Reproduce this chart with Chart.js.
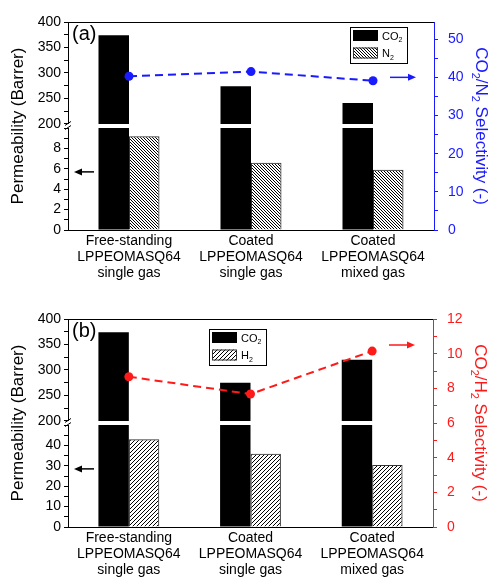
<!DOCTYPE html>
<html>
<head>
<meta charset="utf-8">
<script src="https://cdn.jsdelivr.net/npm/chart.js@4.4.1/dist/chart.umd.min.js"></script>
<style>
  body { margin: 0; background: #fff; }
  canvas { display: block; }
</style>
</head>
<body>
<canvas id="chartA" width="492" height="287"></canvas>
<canvas id="chartB" width="492" height="290"></canvas>
<script>
// membrane permeability / selectivity, two panels with a broken left axis
const categories = [
  ['Free-standing', 'LPPEOMASQ64', 'single gas'],
  ['Coated', 'LPPEOMASQ64', 'single gas'],
  ['Coated', 'LPPEOMASQ64', 'mixed gas']
];

// panel (a): CO2 / N2
const co2PermA = [374, 274, 241];
const n2PermA  = [9.2, 6.6, 5.9];
const selCO2N2 = [40.3, 41.5, 39.1];

// panel (b): CO2 / H2
const co2PermB = [374, 275, 320];
const h2PermB  = [43.0, 35.9, 30.4];
const selCO2H2 = [8.67, 7.67, 10.15];

// axis ranges [min, max, minor step, labelled step]
const upperAxis = [200, 400, 25, 50];
const lowerAxisA = [0, 10, 1, 2];
const lowerAxisB = [0, 50, 5, 10];
const selAxisA = [0, 54.5, 5, 10];
const selAxisB = [0, 12, 1, 2];

const FONT = '"Liberation Sans", Arial, Helvetica, sans-serif';
Chart.defaults.font.family = FONT;
Chart.defaults.font.size = 14;
Chart.defaults.color = '#000';
Chart.defaults.animation = false;

function hatch(size, forward){
  const tile = document.createElement('canvas');
  tile.width = size; tile.height = size;
  const g = tile.getContext('2d');
  g.strokeStyle = '#000'; g.lineWidth = 1;
  g.beginPath();
  if(forward){
    g.moveTo(-1, size + 1); g.lineTo(size + 1, -1);
    g.moveTo(-1, 1); g.lineTo(1, -1);
    g.moveTo(size - 1, size + 1); g.lineTo(size + 1, size - 1);
  } else {
    g.moveTo(-1, -1); g.lineTo(size + 1, size + 1);
    g.moveTo(-1, size - 1); g.lineTo(1, size + 1);
    g.moveTo(size - 1, -1); g.lineTo(size + 1, 1);
  }
  g.stroke();
  return document.createElement('canvas').getContext('2d').createPattern(tile, 'repeat');
}

// text with subscripts: parts = [[text, isSub], ...]
function drawParts(ctx, parts, size, x, y, rot, align){
  ctx.save();
  ctx.translate(x, y); ctx.rotate(rot);
  ctx.textAlign = 'left'; ctx.textBaseline = 'alphabetic';
  const px = s => (s ? Math.round(size * 0.65) : size) + 'px ' + FONT;
  const w = parts.map(([t, s]) => { ctx.font = px(s); return ctx.measureText(t).width; });
  let cx = align === 'center' ? -w.reduce((a, b) => a + b, 0) / 2 : 0;
  parts.forEach(([t, s], i) => {
    ctx.font = px(s);
    ctx.fillText(t, cx, s ? size * 0.25 : 0);
    cx += w[i];
  });
  ctx.restore();
}

function arrow(ctx, x0, x1, y, color){
  const d = Math.sign(x1 - x0);
  ctx.strokeStyle = color; ctx.fillStyle = color; ctx.lineWidth = 1.5;
  ctx.beginPath(); ctx.moveTo(x0, y); ctx.lineTo(x1 - d * 5, y); ctx.stroke();
  ctx.beginPath(); ctx.moveTo(x1, y); ctx.lineTo(x1 - d * 8, y - 3.5); ctx.lineTo(x1 - d * 8, y + 3.5);
  ctx.closePath(); ctx.fill();
}

function decor(p){
  return {
    id: 'decor',
    afterDraw(chart){
      const {ctx, chartArea: a, scales} = chart;
      ctx.save();
      // top frame
      ctx.strokeStyle = '#000'; ctx.lineWidth = 1;
      ctx.beginPath(); ctx.moveTo(a.left, a.top + 0.5); ctx.lineTo(a.right, a.top + 0.5); ctx.stroke();
      // axis break marks
      const g = scales.yGap;
      ctx.lineWidth = 1;
      [g.top, g.bottom].forEach(y => {
        ctx.beginPath(); ctx.moveTo(a.left - 3, y + 1.5); ctx.lineTo(a.left + 3, y - 2.5); ctx.stroke();
      });
      // panel tag
      ctx.fillStyle = '#000';
      ctx.font = '20px ' + FONT; ctx.textAlign = 'left'; ctx.textBaseline = 'middle';
      ctx.fillText(p.tag, a.left + 4, a.top + 12);
      // arrows pointing at the axes
      arrow(ctx, a.left + 26, a.left + 6, scales.yLo.getPixelForValue(p.leftArrow), '#000');
      arrow(ctx, a.right - 44, a.right - 18, scales.yR.getPixelForValue(p.rightArrow), p.color);
      // legend inside the plot
      const bx = a.left + p.legendLeft, by = a.top + p.legendTop;
      ctx.strokeStyle = '#000'; ctx.lineWidth = 1;
      ctx.strokeRect(Math.round(bx) + 0.5, Math.round(by) + 0.5, 57, 36);
      p.legend.forEach((it, i) => {
        const sx = Math.round(bx) + 3, sy = Math.round(by) + 3 + i * 17.5;
        ctx.fillStyle = it.fill;
        ctx.fillRect(sx, sy, 25, 11);
        if(it.edge){ ctx.strokeStyle = it.edge; ctx.strokeRect(sx + 0.5, sy + 0.5, 24, 10); }
        ctx.fillStyle = '#000';
        drawParts(ctx, it.text, 11, sx + 29, sy + 9.5, 0, 'left');
      });
      // right axis title
      ctx.fillStyle = p.color;
      drawParts(ctx, p.rightTitle, 17, a.right + 42, (a.top + a.bottom) / 2, Math.PI / 2, 'center');
      ctx.restore();
    }
  };
}

function buildPanel(id, p){
  const lo = p.lowAxis, hi = upperAxis, sel = p.selAxis;
  const leftW = s => { s.width = 68; };
  return new Chart(document.getElementById(id), {
    data: {
      labels: categories,
      datasets: [
        { type: 'line', label: 'Selectivity', data: p.sel, yAxisID: 'yR', order: 0,
          borderColor: p.color, backgroundColor: p.color, borderWidth: 2, borderDash: [8, 5],
          pointRadius: 4.5, pointBorderWidth: 0, pointBackgroundColor: p.color },
        { type: 'bar', label: 'CO2', data: p.co2.map(v => Math.min(v, lo[1])), yAxisID: 'yLo',
          stack: 'co2', order: 1, backgroundColor: '#000' },
        { type: 'bar', label: 'CO2', data: p.co2, yAxisID: 'yHi',
          stack: 'co2', order: 1, backgroundColor: '#000' },
        { type: 'bar', label: p.gas, data: p.other, yAxisID: 'yLo',
          stack: 'other', order: 1, backgroundColor: p.hatch, borderColor: '#333', borderWidth: 1 }
      ]
    },
    options: {
      responsive: false,
      categoryPercentage: 0.5,
      barPercentage: 1,
      layout: { padding: { top: p.padTop, left: 0, right: 0, bottom: 0 } },
      plugins: { legend: { display: false }, tooltip: { enabled: false } },
      scales: {
        x: {
          type: 'category', offset: true,
          grid: { display: false, drawTicks: false },
          border: { color: '#000' },
          ticks: { padding: 3, maxRotation: 0, autoSkip: false, font: { size: 14, lineHeight: 1.15 } },
          afterFit: s => { s.height = p.xHeight; }
        },
        yHi: {
          type: 'linear', position: 'left', stack: 'left', stackWeight: 25, weight: 3, stacked: false,
          min: hi[0], max: hi[1],
          ticks: { stepSize: hi[2], padding: 3, autoSkip: false, callback: v => v % hi[3] === 0 ? v : '' },
          grid: { drawOnChartArea: false, tickLength: 4, tickColor: '#000' },
          border: { color: '#000' },
          afterFit: leftW
        },
        yGap: {
          type: 'linear', position: 'left', stack: 'left', stackWeight: 1, weight: 2, stacked: false,
          min: 0, max: 1,
          ticks: { display: false },
          grid: { display: false, drawTicks: false },
          border: { display: false },
          title: { display: true, text: 'Permeability (Barrer)', font: { size: 17 }, padding: { top: 8, bottom: 0 } },
          afterFit: leftW
        },
        yLo: {
          type: 'linear', position: 'left', stack: 'left', stackWeight: 25, weight: 1, stacked: false,
          min: lo[0], max: lo[1],
          ticks: { stepSize: lo[2], padding: 3, autoSkip: false,
                   callback: v => (v % lo[3] === 0 && v < lo[1]) ? v : '' },
          grid: { drawOnChartArea: false, tickLength: 4, tickColor: '#000' },
          border: { color: '#000' },
          afterFit: leftW
        },
        yR: {
          type: 'linear', position: 'right', stacked: false,
          min: sel[0], max: sel[1],
          ticks: { stepSize: sel[2], includeBounds: false, autoSkip: false, padding: 10, color: p.color,
                   callback: v => v % sel[3] === 0 ? v : '' },
          grid: { drawOnChartArea: false, tickLength: 4, tickColor: p.color },
          border: { color: p.color },
          afterFit: s => { s.width = p.rightW; }
        }
      }
    },
    plugins: [decor(p)]
  });
}

const hatchN2 = hatch(3, false);
const hatchH2 = hatch(4, true);

buildPanel('chartA', {
  tag: '(a)', color: '#1a1aff', gas: 'N2',
  co2: co2PermA, other: n2PermA, sel: selCO2N2,
  lowAxis: lowerAxisA, selAxis: selAxisA, hatch: hatchN2,
  padTop: 22, xHeight: 57, rightW: 58,
  leftArrow: 5.7, rightArrow: 40,
  legendLeft: 282, legendTop: 5,
  legend: [
    { fill: '#000', text: [['CO', 0], ['2', 1]] },
    { fill: hatchN2, edge: '#333', text: [['N', 0], ['2', 1]] }
  ],
  rightTitle: [['CO', 0], ['2', 1], ['/N', 0], ['2', 1], [' Selectivity (-)', 0]]
});

buildPanel('chartB', {
  tag: '(b)', color: '#ff1a1a', gas: 'H2',
  co2: co2PermB, other: h2PermB, sel: selCO2H2,
  lowAxis: lowerAxisB, selAxis: selAxisB, hatch: hatchH2,
  padTop: 32, xHeight: 50, rightW: 59,
  leftArrow: 28.5, rightArrow: 10.5,
  legendLeft: 141, legendTop: 10,
  legend: [
    { fill: '#000', text: [['CO', 0], ['2', 1]] },
    { fill: hatchH2, edge: '#333', text: [['H', 0], ['2', 1]] }
  ],
  rightTitle: [['CO', 0], ['2', 1], ['/H', 0], ['2', 1], [' Selectivity (-)', 0]]
});
</script>
</body>
</html>
